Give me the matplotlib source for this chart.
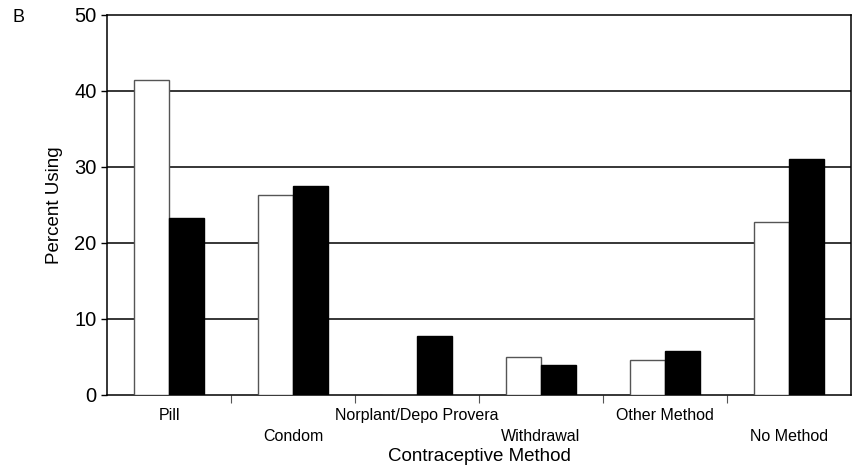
import numpy as np
import matplotlib.pyplot as plt

plt.rcParams['font.family'] = ['Liberation Sans', 'DejaVu Sans']

# categories and the two series (white / black bars)
methods = ["Pill", "Condom", "Norplant/Depo Provera", "Withdrawal", "Other Method", "No Method"]
white_vals = [41.4, 26.3, 0.0, 5.0, 4.6, 22.8]
black_vals = [23.3, 27.5, 7.8, 3.9, 5.8, 31.0]
yticks = [0, 10, 20, 30, 40, 50]

fig = plt.figure(figsize=(8.55, 4.71), dpi=100)
ax = fig.add_axes([107 / 855, 1 - 395 / 471, 744 / 855, 380 / 471])

x = np.arange(len(methods))
w = 0.28
ax.bar(x - w / 2, white_vals, width=w, color="white", edgecolor="#555555", linewidth=1.0, zorder=3)
ax.bar(x + w / 2, black_vals, width=w, color="black", edgecolor="black", linewidth=1.0, zorder=3)

ax.set_xlim(-0.5, len(methods) - 0.5)
ax.set_ylim(0, 50)
ax.set_yticks(yticks)
ax.set_yticklabels([str(t) for t in yticks], fontsize=14.5)
for t in yticks[1:-1]:
    ax.axhline(t, color="black", linewidth=1.1, zorder=1)

# category boundaries as small ticks, labels staggered in two rows
ax.set_xticks(x[:-1] + 0.5)
ax.set_xticklabels([])
ax.tick_params(axis="x", length=6, width=0.8, color="#555555")
ax.tick_params(axis="y", length=4, width=1.0)
for i, name in enumerate(methods):
    yoff = -0.035 if i % 2 == 0 else -0.09
    ax.text(i, yoff, name, transform=ax.get_xaxis_transform(), ha="center", va="top", fontsize=11.5)

ax.set_xlabel("Contraceptive Method", fontsize=13.5, labelpad=29)
ax.set_ylabel("Percent Using", fontsize=13.5, labelpad=8)

for s in ax.spines.values():
    s.set_linewidth(1.1)

fig.text(12 / 855, 1 - 18 / 471, "B", fontsize=13, va="center", ha="left")

fig.savefig("out.png", dpi=100)
